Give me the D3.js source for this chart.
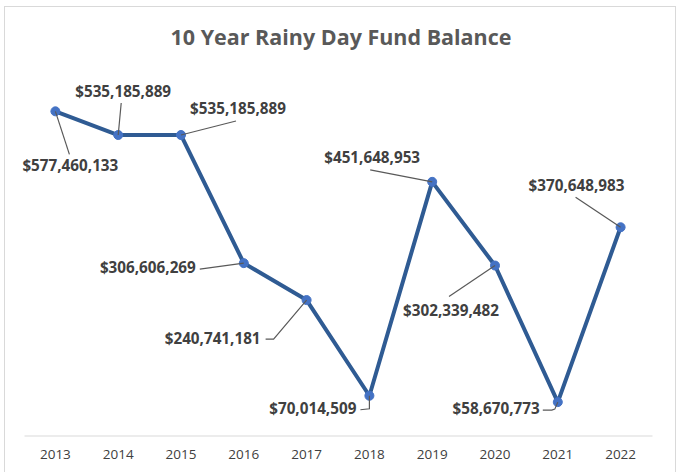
<!DOCTYPE html>
<html>
<head>
<meta charset="utf-8">
<script src="https://cdn.jsdelivr.net/npm/d3@7"></script>
<style>
  html, body { margin: 0; padding: 0; background: #fff; }
  svg { display: block; }
</style>
</head>
<body>
<svg id="chart" width="677" height="472"></svg>
<script>
// ---- data ----
const years = ["2013","2014","2015","2016","2017","2018","2019","2020","2021","2022"];
const balances = [577460133, 535185889, 535185889, 306606269, 240741181, 70014509, 451648953, 302339482, 58670773, 370648983];
const title = "10 Year Rainy Day Fund Balance";

// ---- label layout (offsets from the point: text anchor position and leader elbow) ----
const labelLayout = [
  { dx: -33, dy: 60,  anchor: "start", leader: [[0,0],[14,43]] },
  { dx: -43, dy: -38, anchor: "start", leader: [[0,0],[3,-32]] },
  { dx: 9,   dy: -21, anchor: "start", leader: [[0,0],[55,-14]] },
  { dx: -48, dy: 10,  anchor: "end",   leader: [[0,0],[-44,6]] },
  { dx: -46, dy: 44,  anchor: "end",   leader: [[0,0],[-33,39],[-41,39]] },
  { dx: -13, dy: 18,  anchor: "end",   leader: [[0,0],[0,13],[-9,14]] },
  { dx: -108,dy: -19, anchor: "start", leader: [[0,0],[-62,-12]] },
  { dx: -92, dy: 50,  anchor: "start", leader: [[0,0],[-46,31]] },
  { dx: -18, dy: 12,  anchor: "end",   leader: [[0,0],[-3,7],[-6,8],[-15,8]] },
  { dx: -92, dy: -36, anchor: "start", leader: [[0,0],[-45,-30]] }
];

const svg = d3.select("#chart");

// chart border
svg.append("rect")
  .attr("x", 4.5).attr("y", 6.5)
  .attr("width", 671).attr("height", 480)
  .attr("fill", "#fff").attr("stroke", "#d9d9d9").attr("stroke-width", 1);

// scales
const x = d3.scaleBand().domain(years).range([24, 652]).padding(0);
const y = d3.scaleLinear().domain([0, 600000000]).range([435, 98.7]);
const cx = d => x(d) + x.bandwidth() / 2;

// title
const fontFam = "'Open Sans', 'Noto Sans', 'DejaVu Sans', sans-serif";
const t = svg.append("text")
  .attr("x", 341).attr("y", 45)
  .attr("text-anchor", "middle")
  .attr("font-family", fontFam)
  .attr("font-weight", 700)
  .attr("font-size", 20)
  .attr("fill", "#595959")
  .text(title);
{
  const w = t.node().getComputedTextLength();
  t.attr("font-size", 20 * 341 / w);
}

// x axis
const xAxis = d3.axisBottom(x).tickSize(0).tickPadding(14);
const gx = svg.append("g").attr("transform", "translate(0,435.5)").call(xAxis);
gx.select(".domain").attr("stroke", "#d9d9d9").attr("stroke-width", 1);
gx.selectAll("text")
  .attr("font-family", fontFam)
  .attr("font-size", 13.5)
  .attr("fill", "#404040");

// line
const pts = years.map((yr, i) => ({ yr, v: balances[i], i }));
const line = d3.line().x(d => cx(d.yr)).y(d => y(d.v));
svg.append("path")
  .datum(pts)
  .attr("d", line)
  .attr("fill", "none")
  .attr("stroke", "#2F5B93")
  .attr("stroke-width", 4)
  .attr("stroke-linejoin", "round");

// markers
svg.selectAll("circle.pt")
  .data(pts).enter().append("circle")
  .attr("class", "pt")
  .attr("cx", d => cx(d.yr)).attr("cy", d => y(d.v))
  .attr("r", 4.5)
  .attr("fill", "#4472C4")
  .attr("stroke", "#4472C4");

// leaders
svg.selectAll("path.leader")
  .data(pts).enter().append("path")
  .attr("class", "leader")
  .attr("d", d => {
    const px = cx(d.yr), py = y(d.v);
    return d3.line()(labelLayout[d.i].leader.map(p => [px + p[0], py + p[1]]));
  })
  .attr("fill", "none")
  .attr("stroke", "#595959")
  .attr("stroke-width", 1.2);

// labels
const fmt = v => "$" + d3.format(",")(v);
const labels = svg.selectAll("text.lbl")
  .data(pts).enter().append("text")
  .attr("class", "lbl")
  .attr("x", d => cx(d.yr) + labelLayout[d.i].dx)
  .attr("y", d => y(d.v) + labelLayout[d.i].dy)
  .attr("text-anchor", d => labelLayout[d.i].anchor)
  .attr("font-family", fontFam)
  .attr("font-weight", 700)
  .attr("font-size", 13)
  .attr("fill", "#404040")
  .text(d => fmt(d.v));
{
  const w = labels.filter(d => d.i === 0).node().getComputedTextLength();
  labels.attr("font-size", 13 * 96 / w);
}
</script>
</body>
</html>
